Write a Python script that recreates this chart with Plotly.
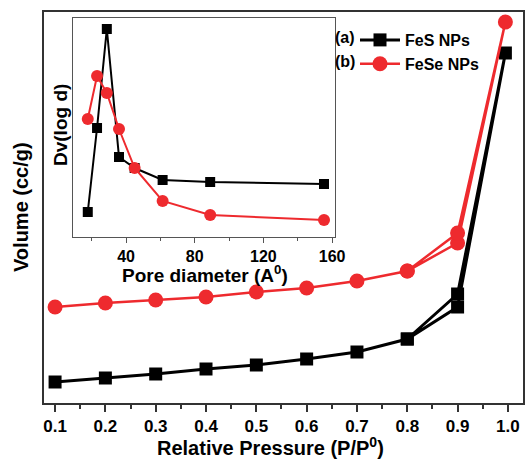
import plotly.graph_objects as go

# Nitrogen isotherms: adsorption 0.1 -> 0.995, then desorption back down to 0.8
pressure = [0.1, 0.2, 0.3, 0.4, 0.5, 0.6, 0.7, 0.8, 0.9, 0.995, 0.9, 0.8]
vol_fes = [21, 25, 29, 34, 38, 44, 51, 64, 96, 350, 109, 64]
vol_fese = [96, 100, 103, 106, 111, 115, 122, 132, 160, 381, 170, 132]

# Pore size distribution (inset)
pore_d = [17.7, 23.1, 28.8, 35.9, 45.0, 61.3, 89.0, 155.3]
dv_fes = [25, 109, 208, 80, 69, 57, 55, 53]
dv_fese = [118, 161, 144, 108, 69, 36, 22, 17]

names = ["FeS NPs", "FeSe NPs"]
tags = ["(a)", "(b)"]
x_ticks = [0.1, 0.2, 0.3, 0.4, 0.5, 0.6, 0.7, 0.8, 0.9, 1.0]
x_ticklabels = ["0.1", "0.2", "0.3", "0.4", "0.5", "0.6", "0.7", "0.8", "0.9", "1.0"]
inset_ticks = [40, 80, 120, 160]

RED = "#ee2a2e"
FONT = "Liberation Sans"

fig = go.Figure()

fig.add_trace(go.Scatter(
    x=pressure, y=vol_fes, name=names[0], mode="lines+markers",
    line=dict(color="black", width=3),
    marker=dict(symbol="square", size=13, color="black"),
    xaxis="x", yaxis="y"))
fig.add_trace(go.Scatter(
    x=pressure, y=vol_fese, name=names[1], mode="lines+markers",
    line=dict(color=RED, width=2.5),
    marker=dict(symbol="circle", size=15, color=RED),
    xaxis="x", yaxis="y"))

fig.add_trace(go.Scatter(
    x=pore_d, y=dv_fes, mode="lines+markers", showlegend=False,
    line=dict(color="black", width=2),
    marker=dict(symbol="square", size=10, color="black"),
    xaxis="x2", yaxis="y2"))
fig.add_trace(go.Scatter(
    x=pore_d, y=dv_fese, mode="lines+markers", showlegend=False,
    line=dict(color=RED, width=2),
    marker=dict(symbol="circle", size=12, color=RED),
    xaxis="x2", yaxis="y2"))

L, R, T, B = 44, 5, 12, 56
W, H = 528, 459
pw, ph = W - L - R, H - T - B

def px_x(p):
    return (p - L) / pw

def px_y(p):
    return (H - B - p) / ph

fig.update_layout(
    template="none",
    width=W, height=H,
    margin=dict(l=L, r=R, t=T, b=B, autoexpand=False),
    paper_bgcolor="white", plot_bgcolor="white",
    font=dict(family=FONT, size=16, color="black"),
    showlegend=True,
    legend=dict(x=px_x(355), y=px_y(23), xanchor="left", yanchor="top",
                bgcolor="rgba(0,0,0,0)", borderwidth=0,
                font=dict(family=FONT, size=16, color="black", weight="bold"),
                itemwidth=40, tracegroupgap=0),
    xaxis=dict(domain=[0, 1], range=[0.078, 1.03], automargin=False,
               tickmode="array", tickvals=x_ticks, ticktext=x_ticklabels,
               ticks="outside", ticklen=7, tickwidth=1.5, tickcolor="#333",
               minor=dict(dtick=0.05, tick0=0.05, ticks="outside", ticklen=4,
                          tickwidth=1.5, tickcolor="#333"),
               tickfont=dict(family=FONT, size=17, weight="bold"),
               showline=True, linecolor="#333", linewidth=1.5, mirror=True,
               showgrid=False, zeroline=False),
    yaxis=dict(domain=[0, 1], range=[0, 391], showticklabels=False, automargin=False,
               ticks="", showline=True, linecolor="#333", linewidth=1.5,
               mirror=True, showgrid=False, zeroline=False),
    xaxis2=dict(domain=[px_x(73), px_x(335)], anchor="y2", range=[9.1, 161.7],
                automargin=False,
                tickmode="array", tickvals=inset_ticks,
                ticks="outside", ticklen=5, tickwidth=1, tickcolor="#555",
                minor=dict(dtick=20, tick0=20, ticks="outside", ticklen=3,
                           tickwidth=1, tickcolor="#555"),
                tickfont=dict(family=FONT, size=16, weight="bold"),
                showline=True, linecolor="#555", linewidth=1.2, mirror=True,
                showgrid=False, zeroline=False),
    yaxis2=dict(domain=[px_y(237), px_y(18)], anchor="x2", range=[0, 219],
                showticklabels=False, ticks="", automargin=False,
                showline=True, linecolor="#555", linewidth=1.2, mirror=True,
                showgrid=False, zeroline=False),
)

def label(text, xp, yp, size, angle=0):
    return dict(text=text, x=px_x(xp), y=px_y(yp), xref="paper", yref="paper",
                xanchor="center", yanchor="middle", textangle=angle,
                showarrow=False, font=dict(family=FONT, size=size, weight="bold"))

annotations = [
    label("Relative Pressure (P/P<sup>0</sup>)", 270, 446, 20),
    label("Volume (cc/g)", 21, 207, 20, -90),
    label("Pore diameter (A<sup>0</sup>)", 205, 274, 19),
    label("Dv(log d)", 61, 125, 19, -90),
]
for i, t in enumerate(tags):
    annotations.append(label(t, 345, 37 + 25 * i, 16))
fig.update_layout(annotations=annotations)

fig.write_html("out.html")
